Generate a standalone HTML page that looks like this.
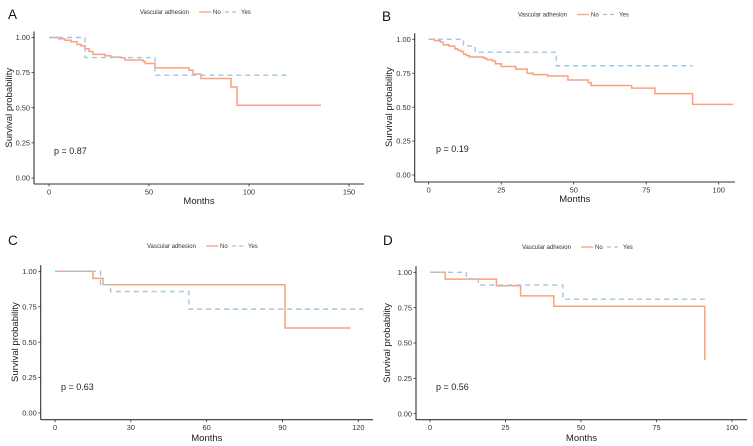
<!DOCTYPE html>
<html><head><meta charset="utf-8"><style>
html,body{margin:0;padding:0;background:#fff;width:753px;height:446px;overflow:hidden}
svg text{font-family:"Liberation Sans",Arial,sans-serif}
</style></head><body>
<svg id="fig" width="753" height="446" viewBox="0 0 753 446" xmlns="http://www.w3.org/2000/svg"></svg>
<script>
// Panel A
const aXTicks=[0,50,100,150];
const aNoT=[0,5,8,11,14,16,18,20,22,28,31,36,38,47,48,53,70,72,76,91,94,136];
const aNoS=[1,0.99,0.98,0.97,0.95,0.94,0.92,0.90,0.88,0.87,0.86,0.855,0.84,0.83,0.815,0.784,0.767,0.739,0.708,0.648,0.518,0.518];
const aYesT=[0,18,53,120];
const aYesS=[1,0.857,0.732,0.732];
// Panel B
const bXTicks=[0,25,50,75,100];
const bNoT=[0,2,4,5,7,9,10,11,12,13,14,19,20,22,23,25,30,34,36,41,48,55,56,70,78,91,105];
const bNoS=[1,0.99,0.98,0.96,0.95,0.93,0.92,0.91,0.89,0.88,0.87,0.86,0.85,0.84,0.82,0.80,0.78,0.75,0.74,0.73,0.70,0.68,0.66,0.64,0.60,0.52,0.52];
const bYesT=[0,12,16,44,91];
const bYesS=[1,0.95,0.905,0.805,0.805];
// Panel C
const cXTicks=[0,30,60,90,120];
const cNoT=[0,15,19,91,117];
const cNoS=[1,0.95,0.905,0.60,0.60];
const cYesT=[0,18,22,53,122];
const cYesS=[1,0.905,0.857,0.733,0.733];
// Panel D
const dXTicks=[0,25,50,75,100];
const dNoT=[0,5,22,30,41,91,91];
const dNoS=[1,0.952,0.905,0.833,0.76,0.38,0.38];
const dYesT=[0,12,16,44,91];
const dYesS=[1,0.955,0.91,0.81,0.81];
const yTicks=[0,0.25,0.5,0.75,1];
const yTickLabels=["0.00","0.25","0.50","0.75","1.00"];

const NS="http://www.w3.org/2000/svg";
const svg=document.getElementById('fig');
function mk(tag,attrs,parent,text){const e=document.createElementNS(NS,tag);for(const k in attrs)e.setAttribute(k,attrs[k]);if(text!==undefined)e.textContent=text;(parent||svg).appendChild(e);return e;}

const panels=[
 {id:'a',letter:'A',lx:8,ly:19,ax:34,axB:184,axR:364,x0:49,x1:349,xMax:150,y1:37.5,y0:178,ticks:aXTicks,no:[aNoT,aNoS],yes:[aYesT,aYesS],p:'p = 0.87',px:54,py:154,legY:12,legX:140,titleY:204,ytitleX:12},
 {id:'b',letter:'B',lx:382,ly:21,ax:414.7,axB:182,axR:735,x0:428.7,x1:718.7,xMax:100,y1:39.3,y0:175,ticks:bXTicks,no:[bNoT,bNoS],yes:[bYesT,bYesS],p:'p = 0.19',px:436,py:152,legY:14.5,legX:518,titleY:202,ytitleX:392},
 {id:'c',letter:'C',lx:8,ly:245,ax:40.7,axB:419.7,axR:373,x0:55,x1:358.3,xMax:120,y1:271.3,y0:413,ticks:cXTicks,no:[cNoT,cNoS],yes:[cYesT,cYesS],p:'p = 0.63',px:61,py:390,legY:246,legX:147,titleY:441,ytitleX:18},
 {id:'d',letter:'D',lx:383,ly:245,ax:416,axB:419.7,axR:747,x0:430,x1:732,xMax:100,y1:272.3,y0:413.7,ticks:dXTicks,no:[dNoT,dNoS],yes:[dYesT,dYesS],p:'p = 0.56',px:436,py:390,legY:247,legX:522,titleY:441,ytitleX:390}
];
const ORANGE="#fca07e", BLUE="#9fc7e0";
panels.forEach(P=>{
 const g=mk('g',{});
 const xs=v=>P.x0+(P.x1-P.x0)*v/P.xMax;
 const ys=v=>P.y0+(P.y1-P.y0)*v;
 mk('text',{x:P.lx,y:P.ly,'font-size':13.5,fill:'#111',},g,P.letter);
 const lg=mk('g',{},g);
 mk('text',{x:P.legX,y:P.legY+2,'font-size':6,fill:'#333'},lg,'Vascular adhesion');
 mk('line',{x1:P.legX+59,x2:P.legX+71,y1:P.legY,y2:P.legY,stroke:ORANGE,'stroke-width':1.3,},lg);
 mk('text',{x:P.legX+73,y:P.legY+2,'font-size':6,fill:'#333',},lg,'No');
 mk('line',{x1:P.legX+85,x2:P.legX+97,y1:P.legY,y2:P.legY,stroke:BLUE,'stroke-width':1.3,'stroke-dasharray':'4,3',},lg);
 mk('text',{x:P.legX+101,y:P.legY+2,'font-size':6,fill:'#333',},lg,'Yes');
 mk('line',{x1:P.ax,x2:P.ax,y1:P.y1-6,y2:P.axB,stroke:'#333','stroke-width':1.1,},g);
 mk('line',{x1:P.ax,x2:P.axR,y1:P.axB,y2:P.axB,stroke:'#333','stroke-width':1.1,},g);
 yTicks.forEach((t,i)=>{const y=ys(t);
  mk('line',{x1:P.ax-2.5,x2:P.ax,y1:y,y2:y,stroke:'#333','stroke-width':0.8},g);
  mk('text',{x:P.ax-4,y:y+2.6,'font-size':7.4,fill:'#333','text-anchor':'end',},g,yTickLabels[i]);});
 P.ticks.forEach(t=>{const x=xs(t);
  mk('line',{x1:x,x2:x,y1:P.axB,y2:P.axB+2.5,stroke:'#333','stroke-width':0.8},g);
  mk('text',{x:x,y:P.axB+10.5,'font-size':7.4,fill:'#333','text-anchor':'middle',},g,String(t));});
 mk('text',{x:(P.ax+P.axR)/2,y:P.titleY,'font-size':9.5,fill:'#222','text-anchor':'middle',},g,'Months');
 const yc=(P.y1+P.y0)/2;
 mk('text',{x:P.ytitleX,y:yc,'font-size':9.5,fill:'#222','text-anchor':'middle',transform:`rotate(-90 ${P.ytitleX} ${yc})`,},g,'Survival probability');
 mk('text',{x:P.px,y:P.py,'font-size':9,fill:'#222',},g,P.p);
 function step(T,S){let d='M'+xs(T[0])+','+ys(S[0]);for(let i=1;i<T.length;i++){d+=' H'+xs(T[i])+' V'+ys(S[i]);}return d;}
 mk('path',{d:step(P.no[0],P.no[1]),fill:'none',stroke:ORANGE,'stroke-width':1.5,},g);
 mk('path',{d:step(P.yes[0],P.yes[1]),fill:'none',stroke:BLUE,'stroke-width':1.4,'stroke-dasharray':'5,4',},g);
});
</script>
</body></html>
